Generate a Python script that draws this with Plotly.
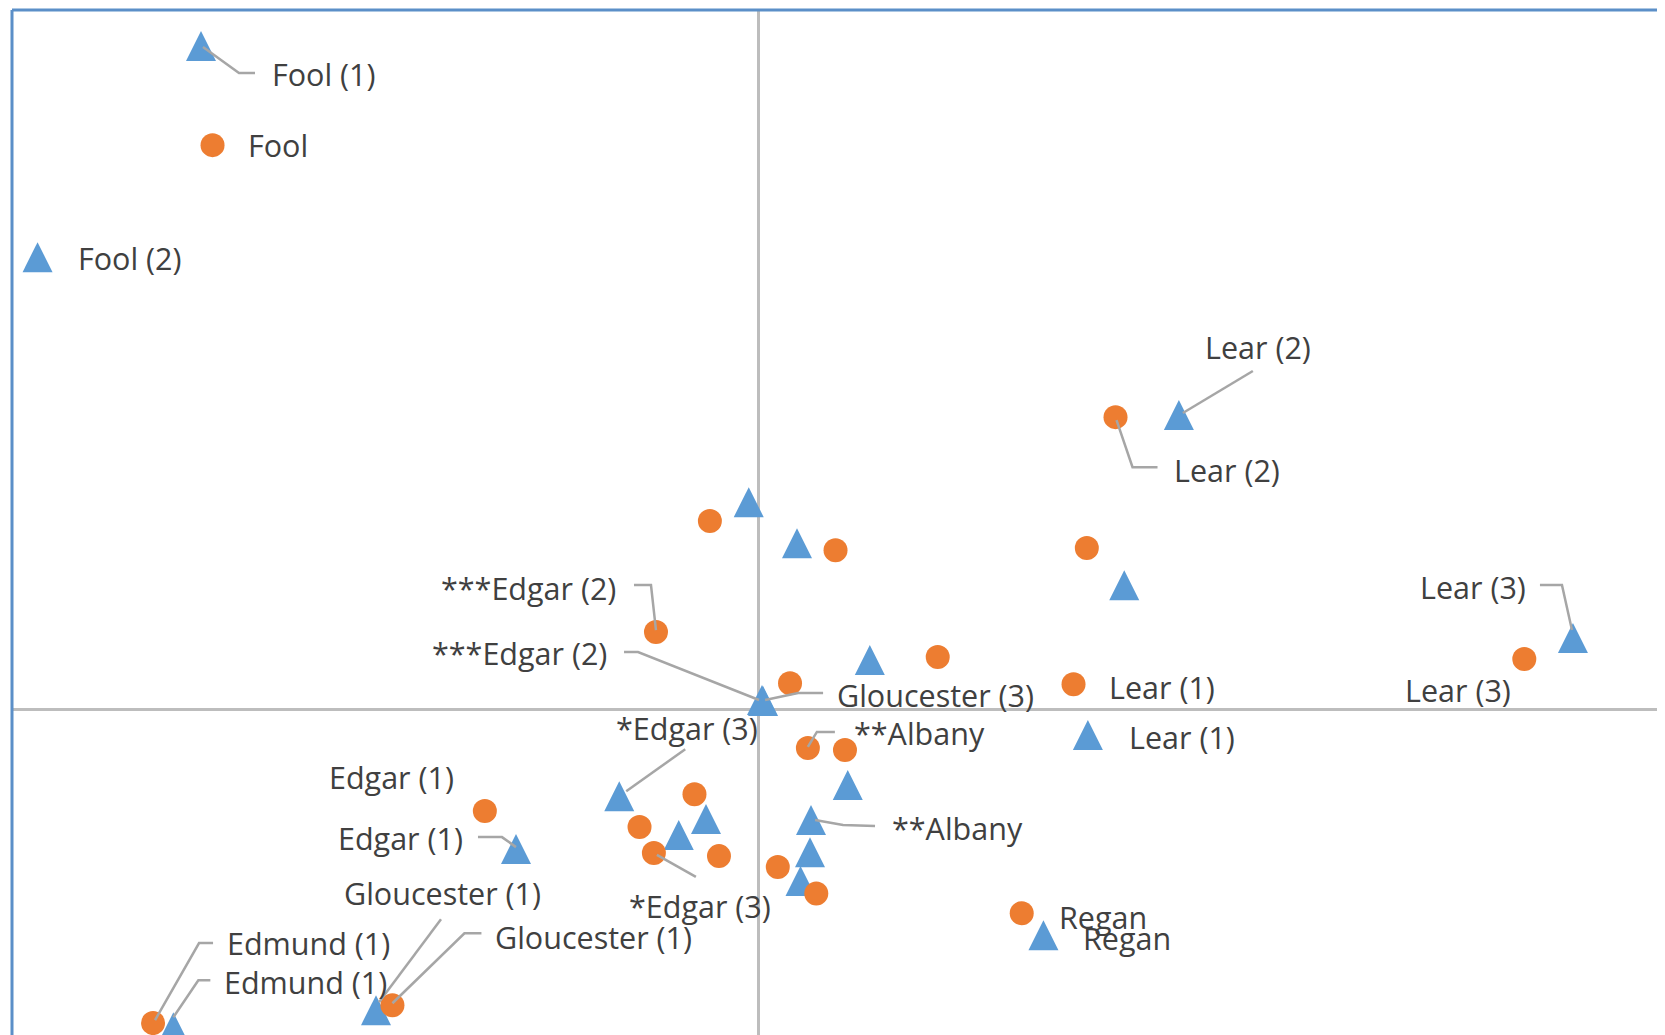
import plotly.graph_objects as go

# ---------------- data ----------------
tri_x = [-1.594, -2.061, 1.200, -0.029, 0.109, 1.044, 2.326, 0.317, 0.009, 0.012,
         -0.399, -0.151, -0.229, -0.694, 0.254, 0.149, 0.146, 0.119, 0.813, 0.940,
         -1.094, -1.673]
tri_y = [1.894, 1.291, 0.840, 0.591, 0.474, 0.354, 0.203, 0.140, 0.026, 0.023,
         -0.249, -0.314, -0.360, -0.400, -0.217, -0.317, -0.409, -0.491, -0.646, -0.074,
         -0.860, -0.909]
tri_lbl = ["Fool (1)", "Fool (2)", "Lear (2)", "", "", "", "Lear (3)", "", "***Edgar (2)", "Gloucester (3)",
           "*Edgar (3)", "", "", "Edgar (1)", "", "**Albany", "", "", "Regan", "Lear (1)",
           "Gloucester (1)", "Edmund (1)"]

cir_x = [-1.561, 1.019, -0.140, 0.219, 0.937, -0.294, 0.511, 0.089, 0.899, 2.187,
         0.140, 0.246, -0.184, -0.341, -0.300, -0.114, 0.054, 0.164, -0.783, 0.751,
         -1.047, -1.731]
cir_y = [1.611, 0.834, 0.537, 0.454, 0.460, 0.220, 0.149, 0.074, 0.071, 0.143,
         -0.111, -0.117, -0.243, -0.337, -0.411, -0.420, -0.451, -0.527, -0.291, -0.583,
         -0.846, -0.897]
cir_lbl = ["Fool", "Lear (2)", "", "", "", "***Edgar (2)", "", "", "Lear (1)", "Lear (3)",
           "**Albany", "", "", "", "*Edgar (3)", "", "", "", "Edgar (1)", "Regan",
           "Gloucester (1)", "Edmund (1)"]

# ---------------- layout / style ----------------
# the page body has an 8px margin, so the figure starts at (8, 8)
W, H = 1657, 1027
ML, MT = 4, 2
XR = [-2.134, 2.589]
YR = [-0.931, 1.997]
PXX = (W - ML) / (XR[1] - XR[0])
PXY = (H - MT) / (YR[1] - YR[0])

BLUE = "#5b9bd5"
ORANGE = "#ed7d31"
TEXT = "#404040"
LEADER = "#a6a6a6"
FONT = "Open Sans"
FS = 30.5
TRI_SIZE = 30
CIR_SIZE = 24

# label placement: (series, label) -> (xanchor, dx px, dy px (down +), leader pixel path)
place = {
    ("tri", "Fool (1)"): ("left", 69, 28, [(2, 1), (38, 27), (54, 27)]),
    ("cir", "Fool"): ("left", 33, 0, None),
    ("tri", "Fool (2)"): ("left", 38, 1, None),
    ("tri", "Lear (2)"): ("left", 24, -68, [(74, -44), (4, -2)]),
    ("cir", "Lear (2)"): ("left", 56, 53, [(1, 3), (17, 50), (42, 50)]),
    ("cir", "***Edgar (2)"): ("right", -38, -44, [(-22, -47), (-5, -47), (0, -2)]),
    ("tri", "***Edgar (2)"): ("right", -153, -47, [(-138, -48), (-124, -48), (-3, 0)]),
    ("tri", "Gloucester (3)"): ("left", 72, -6, [(60, -8), (35, -8), (2, -1)]),
    ("tri", "*Edgar (3)"): ("left", -5, -68, [(66, -47), (7, -5)]),
    ("cir", "*Edgar (3)"): ("left", -27, 53, [(3, 2), (42, 24)]),
    ("cir", "**Albany"): ("left", 44, -15, [(27, -16), (9, -16), (0, -1)]),
    ("tri", "**Albany"): ("left", 79, 8, [(64, 6), (32, 5), (4, 0)]),
    ("cir", "Lear (1)"): ("left", 33, 3, None),
    ("tri", "Lear (1)"): ("left", 39, 2, None),
    ("tri", "Lear (3)"): ("right", -45, -51, [(-33, -53), (-11, -53), (-1, -8)]),
    ("cir", "Lear (3)"): ("right", -11, 31, None),
    ("cir", "Edgar (1)"): ("right", -29, -34, None),
    ("tri", "Edgar (1)"): ("right", -51, -11, [(-38, -12), (-14, -12), (0, -2)]),
    ("cir", "Regan"): ("left", 35, 4, None),
    ("tri", "Regan"): ("left", 38, 3, None),
    ("tri", "Gloucester (1)"): ("left", -34, -117, [(65, -91), (3, -8)]),
    ("cir", "Gloucester (1)"): ("left", 101, -68, [(89, -72), (72, -72), (0, -2)]),
    ("cir", "Edmund (1)"): ("left", 72, -80, [(60, -80), (46, -80), (2, -3)]),
    ("tri", "Edmund (1)"): ("left", 49, -45, [(37, -47), (25, -47), (0, -10)]),
}

fig = go.Figure()

fig.add_trace(go.Scatter(
    x=tri_x, y=tri_y, mode="markers", name="series 1",
    marker=dict(symbol="arrow-down", angle=180, standoff=TRI_SIZE / 2,
                size=TRI_SIZE, color=BLUE, line=dict(width=0)),
    hoverinfo="skip"))
fig.add_trace(go.Scatter(
    x=cir_x, y=cir_y, mode="markers", name="series 2",
    marker=dict(symbol="circle", size=CIR_SIZE, color=ORANGE, line=dict(width=0)),
    hoverinfo="skip"))

lx, ly = [], []
annotations = []
for key, xs, ys, lbls in (("tri", tri_x, tri_y, tri_lbl), ("cir", cir_x, cir_y, cir_lbl)):
    for x0, y0, t in zip(xs, ys, lbls):
        if not t:
            continue
        anchor, dx, dy, path = place[(key, t)]
        annotations.append(dict(
            x=x0, y=y0, xref="x", yref="y", text=t, showarrow=False,
            xanchor=anchor, yanchor="middle", xshift=dx, yshift=-dy,
            font=dict(family=FONT, size=FS, color=TEXT)))
        if path:
            for px, py in path:
                lx.append(x0 + px / PXX)
                ly.append(y0 - py / PXY)
            lx.append(None)
            ly.append(None)

fig.add_trace(go.Scatter(x=lx, y=ly, mode="lines",
                         line=dict(color=LEADER, width=2.5),
                         hoverinfo="skip", connectgaps=False))

fig.update_layout(
    width=W, height=H,
    margin=dict(l=ML, r=0, t=MT, b=0, pad=0),
    paper_bgcolor="white", plot_bgcolor="white",
    showlegend=False,
    annotations=annotations,
    xaxis=dict(range=XR, showgrid=False, showticklabels=False, ticks="",
               zeroline=True, zerolinecolor="#bdbdbd", zerolinewidth=3,
               showline=False, fixedrange=True),
    yaxis=dict(range=YR, showgrid=False, showticklabels=False, ticks="",
               zeroline=True, zerolinecolor="#bdbdbd", zerolinewidth=3,
               showline=False, fixedrange=True),
    shapes=[
        dict(type="line", xref="paper", yref="paper", x0=0, x1=1, y0=1, y1=1,
             line=dict(color="#5b8fc8", width=3)),
        dict(type="line", xref="paper", yref="paper", x0=0, x1=0, y0=0, y1=1,
             line=dict(color="#5b8fc8", width=3)),
    ],
)

fig.write_html("out.html")
